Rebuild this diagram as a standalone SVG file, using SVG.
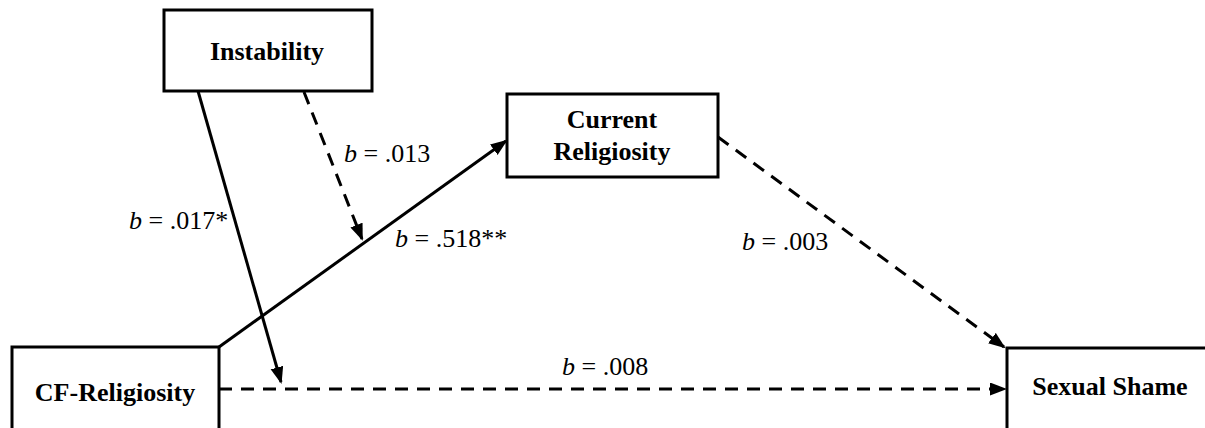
<svg xmlns="http://www.w3.org/2000/svg" width="1205" height="428" viewBox="0 0 1205 428">
<style>
.box{fill:#fff;stroke:#000;stroke-width:3}
.nt{font-weight:bold;font-size:26px;text-anchor:middle;fill:#000}
.lbl{font-size:26px;fill:#000}
.ln{fill:none;stroke:#000;stroke-width:3}
.dash{stroke-dasharray:13 9}
</style>
<defs>
<marker id="ah" markerUnits="userSpaceOnUse" markerWidth="18" markerHeight="14" refX="15" refY="6.5" orient="auto">
<path d="M0,0 L17,6.5 L0,13 z" fill="#000"/>
</marker>
</defs>
<rect width="1205" height="428" fill="#fff"/>
<g id="connectors">
<path class="ln" d="M219,347 L506,141" marker-end="url(#ah)"/>
<path class="ln" d="M198,91 L281,382" marker-end="url(#ah)"/>
<path class="ln dash" d="M304,92 L362,239" marker-end="url(#ah)"/>
<path class="ln dash" d="M718,137 L1004,347" marker-end="url(#ah)"/>
<path class="ln dash" d="M219,389 L1005,389" marker-end="url(#ah)"/>
</g>
<g font-family="'Liberation Serif', 'Times New Roman', Tinos, 'DejaVu Serif', serif">
<g id="node-instability">
<rect class="box" x="164" y="10" width="208" height="81"/>
<text class="nt" x="267" y="60">Instability</text>
</g>
<g id="node-current">
<rect class="box" x="507" y="94" width="211" height="83"/>
<text class="nt" x="612" y="128">Current</text>
<text class="nt" x="612" y="160">Religiosity</text>
</g>
<g id="node-cf">
<rect class="box" x="12" y="347" width="207" height="100"/>
<text class="nt" x="115" y="401">CF-Religiosity</text>
</g>
<g id="node-shame">
<rect class="box" x="1007" y="348" width="220" height="100"/>
<text class="nt" x="1110" y="395">Sexual Shame</text>
</g>
<g id="labels">
<text class="lbl" x="344" y="162"><tspan font-style="italic">b</tspan> = .013</text>
<text class="lbl" x="395" y="247"><tspan font-style="italic">b</tspan> = .518**</text>
<text class="lbl" x="129" y="229"><tspan font-style="italic">b</tspan> = .017*</text>
<text class="lbl" x="742" y="250"><tspan font-style="italic">b</tspan> = .003</text>
<text class="lbl" x="562" y="375"><tspan font-style="italic">b</tspan> = .008</text>
</g>
</g>
</svg>
